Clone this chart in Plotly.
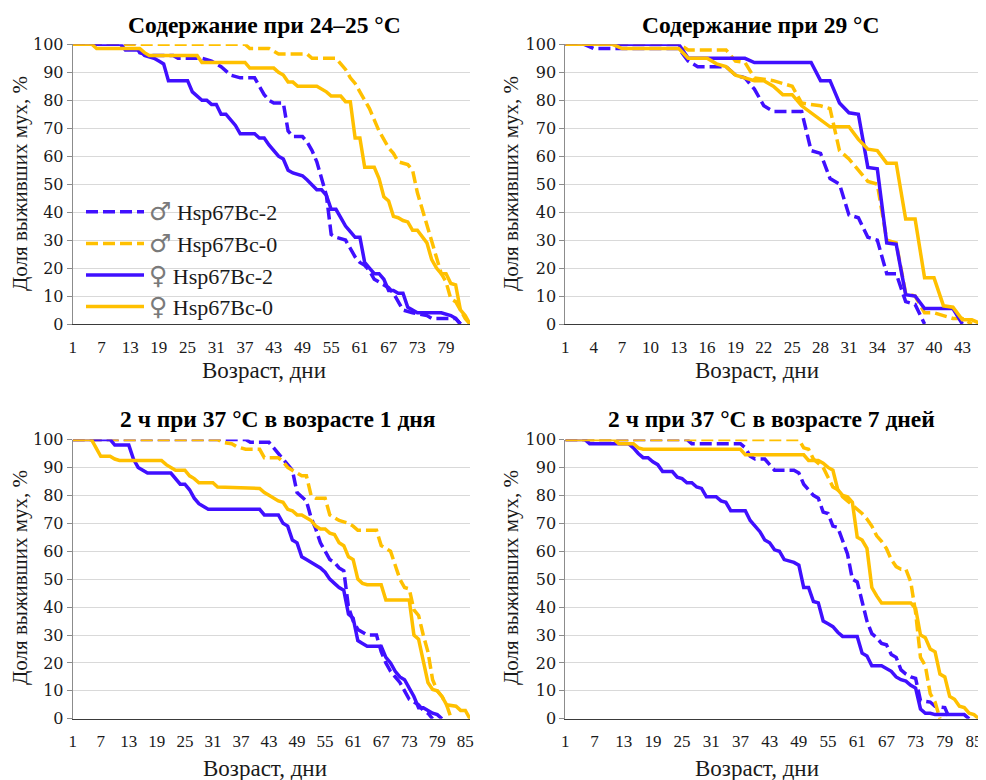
import plotly.graph_objects as go

# ---------------- data (day, % surviving) ----------------
# Panel 1: 24-25 °C
p1_m2_d = [1,14,15,17,22,23,28,30,32,34,36,39,41,42,43,45,46,47,49,50,51,52,53,54,55,56,58,59,60,61,62,63,64,65,67,68,69,70,72,75,76,81,82]
p1_m2_v = [100,100,97,96,96,95,95,94,92,89,88,88,82,80,79,79,69,67,67,65,62,58,52,46,32,31,30,27,24,22,21,19,16,15,13,11,8,5,4,3,2,2,0]
p1_m0_d = [1,37,38,42,44,50,51,56,57,58,59,60,61,62,63,64,65,66,67,68,69,71,72,73,74,75,76,77,78,79,80,81,82,83,84]
p1_m0_v = [100,100,98.5,98.5,96.5,96.5,95,95,93,91,88,86,83,80,77,73,69,66,63,61,58,57,55,47,41,36,30,24,18,15,9,8,5,2,0]
p1_f2_d = [1,11,12,15,16,18,19,20,21,25,26,27,28,29,30,31,32,33,34,35,36,39,40,41,42,43,44,45,46,47,48,49,50,52,53,54,55,56,57,58,59,60,61,62,63,64,65,66,67,68,69,70,71,72,73,78,80,81,82]
p1_f2_v = [100,100,98,98,96,95,94,93,87,87,83,81.5,80,80,78.5,78.5,75,75,73,71,68,68,66.5,66.5,64,62,60,59,55,54,53.5,53,51.5,48,48,46,41,41,38,35,33,31,31,22,20,18,18,16,12,12,11,11,6,5,4,4,3,2,0]
p1_f0_d = [1,5,6,15,16,17,27,28,37,38,43,44,45,46,47,48,52,53,54,55,57,58,59,60,61,62,64,65,66,67,68,69,70,71,72,73,74,75,76,77,78,79,80,81,82,83,84]
p1_f0_v = [100,100,98.5,98.5,97,96,96,93.5,93.5,91.5,91.5,90,89,86.5,86.5,85,85,84,83,81.5,81.5,79.5,79.5,66.5,66.5,56,56,52,45.5,44,38.5,38,37,36.5,33.5,33.5,31,29,23,20,18,18,14.5,14,5,3,0]

# Panel 2: 29 °C
p2_m2_d = [1,3,4,13,14,15,18,19,20,21,22,23,26,27,28,29,30,31,32,33,34,35,36,37,38,39]
p2_m2_v = [100,100,98.5,98.5,94,92,92,89,88,84,78,76,76,62,61,52,50,39,38,31,30,18,18,8,7,0]
p2_m0_d = [1,13,14,18,19,20,21,23,24,25,26,28,29,30,31,32,33,34,35,36,37,38,39,40,41,42,43,44]
p2_m0_v = [100,100,98,98,94,93.5,88,87,86,85,79,78,77,62,59,55,51,50,30,29,11,10,4,4,3,2,2,0]
p2_f2_d = [1,13,14,20,21,27,28,29,30,31,32,33,34,35,36,37,38,39,42,43]
p2_f2_v = [100,100,95,95,93.5,93.5,87,87,79,75.5,75,56,55.5,29,28.5,10.5,10,5.5,5.5,0]
p2_f0_d = [1,6,7,13,14,16,17,18,19,20,21,22,23,24,25,26,27,28,29,31,32,33,34,35,36,37,38,39,40,41,42,43,44,45]
p2_f0_v = [100,100,98.5,98.5,95,95,93,92,89,88,87,87,85,82,82,78,75.5,73,70.5,70.5,66,62.5,62,57.5,57.5,37.5,37.5,16.5,16.5,6.5,6,1.5,1.5,0]

# Panel 3: 2 h at 37 °C, age 1 day
p3_m2_d = [1,38,39,43,44,45,46,47,48,49,50,51,52,53,54,55,56,57,58,59,60,61,62,63,64,66,67,68,69,70,71,72,73,74,75,76,77,78]
p3_m2_v = [100,100,99,99,97,95,93,91,89,81,79.5,78,72,68,63,60,57,56,54,53,40,35,32,31,30,30,24,20,17,15,13,10,7,6,5,3,2,0]
p3_m0_d = [1,32,33,35,36,37,38,41,42,45,46,47,48,49,50,51,52,53,55,56,57,58,59,60,61,62,66,67,68,69,70,71,72,73,74,75,76,77,78,79,80,81,82]
p3_m0_v = [100,100,99,98.5,97.5,97,96.5,96.5,93.5,93.5,92,90,89,88,87,87,80,79,79,73,72,71,70.5,70,69,67.5,67.5,62,61,60,55,50,47,46.5,39,37,30,24,14,10,8,5,0]
p3_f2_d = [1,9,10,13,14,15,16,17,22,23,24,25,26,27,28,29,30,41,42,45,46,47,48,49,50,51,52,53,54,55,56,57,58,59,60,61,62,63,64,67,68,69,70,71,72,73,74,75,76,77,78,79,80]
p3_f2_v = [100,100,98,98,93,90,89,88,88,86,84,84,82,79,77,76,75,75,73,73,70,69,64,63,58,57,56,55,54,52.5,50,48.5,47,46,37.5,36,28,27,26,26,22,20,17,15,14,11,8,4,4,3,2,1.5,0]
p3_f0_d = [1,5,6,7,9,10,11,20,21,22,23,25,26,27,28,31,32,41,42,43,44,45,46,47,48,49,50,51,52,53,54,55,56,57,58,59,60,61,62,63,64,67,68,73,74,75,76,77,78,79,80,81,83,84,85,86]
p3_f0_v = [100,100,97,94,94,93,92.5,92.5,91,90,89,89,87,86,84.5,84.5,83,82.5,81,80,79,78,77.5,75,74.5,73,73,72,71,69,68,68,66.5,66,63,62,58,57,50,48.5,48,48,42.5,42.5,30,28.5,20,13,10.5,10,8,5,4.5,3,3,0]

# Panel 4: 2 h at 37 °C, age 7 days
p4_m2_d = [1,26,27,37,38,39,40,42,43,44,48,49,50,51,52,53,54,55,56,57,58,59,60,61,62,63,64,65,66,67,68,69,70,71,72,73,74,76,77,79,80]
p4_m2_v = [100,100,98.5,98.5,97,94,93,93,91,89,89,88,84,82,80,79,74,73.5,69,68.5,64,59,50,49,42,35,30.5,29,27,26.5,23,22,17.5,16,15,14.5,6.5,6,4.5,4,0]
p4_m0_d = [1,49,50,51,52,53,54,55,56,57,58,59,60,61,62,63,64,65,66,67,68,69,70,71,72,73,74,75,76,77,78]
p4_m0_v = [100,100,97,96.5,93,91.5,90,86.5,83,82,79.5,78,76.5,75,73.5,71.5,69,65.5,63.5,61,57,54.5,53.5,53.5,49,38,22,19,9,6,0]
p4_f2_d = [1,5,6,14,15,16,17,18,19,20,21,23,24,25,26,27,28,29,30,32,33,34,35,38,39,40,41,42,43,44,45,46,47,48,49,50,51,52,53,54,55,56,57,58,61,62,63,64,66,67,68,69,70,71,72,73,74,75,76,77,83,84]
p4_f2_v = [100,100,98.5,98.5,97,95,93.5,93.5,92,91,88.5,88.5,86.5,86,84.5,84.5,83,82.5,79.5,79.5,78,77.5,74.5,74.5,71,69,67,64,63,60.5,60,57,56.5,56,55,47,47,42,41.5,35,34,33,31,29.5,29.5,23.5,22.5,19,19,18,17,15,14,13.5,12,11,3.5,2,2,1.5,1.5,0]
p4_f0_d = [1,11,12,15,16,17,37,38,50,51,53,54,55,56,57,58,59,60,61,62,63,64,65,66,72,73,74,75,76,77,78,79,80,81,82,83,84,85,86]
p4_f0_v = [100,100,98.5,98.5,97,96.5,96.5,94.5,94.5,92.5,92.5,91.5,90,89,82,80,79.5,77.5,65,64,61,47,44,41.5,41.5,39.5,30,29,25,24,16,15,8,7,4.5,4,2,1.5,0]

SYM = "<span style='color:#7a7a7a;font-size:25px;font-family:DejaVu Sans'>%s</span> Hsp67Bc-%s"
series_names = [SYM % ("♂", "2"), SYM % ("♂", "0"), SYM % ("♀", "2"), SYM % ("♀", "0")]
panel_titles = ["Содержание при 24–25 °C", "Содержание при 29 °C",
                "2 ч при 37 °C в возрасте 1 дня", "2 ч при 37 °C в возрасте 7 дней"]
x_title = "Возраст, дни"
y_title = "Доля выживших мух, %"
x_ticks_p1 = list(range(1, 80, 6))
x_ticks_p2 = list(range(1, 44, 3))
x_ticks_p34 = list(range(1, 86, 6))
y_ticks = list(range(0, 101, 10))
x_ranges = [[1, 84], [1, 45], [1, 86], [1, 86.5]]

panels = [
    [(p1_m2_d, p1_m2_v), (p1_m0_d, p1_m0_v), (p1_f2_d, p1_f2_v), (p1_f0_d, p1_f0_v)],
    [(p2_m2_d, p2_m2_v), (p2_m0_d, p2_m0_v), (p2_f2_d, p2_f2_v), (p2_f0_d, p2_f0_v)],
    [(p3_m2_d, p3_m2_v), (p3_m0_d, p3_m0_v), (p3_f2_d, p3_f2_v), (p3_f0_d, p3_f0_v)],
    [(p4_m2_d, p4_m2_v), (p4_m0_d, p4_m0_v), (p4_f2_d, p4_f2_v), (p4_f0_d, p4_f0_v)],
]
x_tick_sets = [x_ticks_p1, x_ticks_p2, x_ticks_p34, x_ticks_p34]

# ---------------- styling ----------------
# The page body has an 8px margin, so the figure is 8px smaller and all
# screen positions below are converted to figure positions by subtracting OFF.
OFF = 8
W, H = 986 - OFF, 780 - OFF
BLUE = "#4010FF"
GOLD = "#FFC000"
colors = [BLUE, GOLD, BLUE, GOLD]
dashes = ["12px,5px", "12px,5px", "solid", "solid"]
FONT = "Liberation Serif, Times New Roman, serif"
YFONT = "DejaVu Serif, Liberation Serif, serif"
TXT = "#1a1a1a"


def px(sx):
    return (sx - OFF) / W


def py(sy):
    return 1 - (sy - OFF) / H


# plot areas in screen pixels: (left, right, top, bottom)
areas = [(72.7, 470.0, 44.3, 324.0), (565.3, 981.3, 44.3, 324.0),
         (72.7, 470.0, 439.5, 718.8), (565.3, 981.3, 439.5, 718.8)]

fig = go.Figure()
layout = dict(
    width=W, height=H, margin=dict(l=0, r=0, t=0, b=0, autoexpand=False),
    paper_bgcolor="white", plot_bgcolor="white",
    font=dict(family=FONT, color=TXT),
    showlegend=True,
    legend=dict(x=px(81), y=py(191), xanchor="left", yanchor="top",
                bgcolor="rgba(0,0,0,0)", font=dict(family=FONT, size=22, color=TXT),
                tracegroupgap=0, itemwidth=58),
)

for i, (area, series) in enumerate(zip(areas, panels)):
    n = "" if i == 0 else str(i + 1)
    l, r, t, b = area
    layout["xaxis" + n] = dict(
        domain=[px(l), px(r)], anchor="y" + n, range=x_ranges[i], automargin=False,
        tickmode="array", tickvals=x_tick_sets[i], ticks="",
        showgrid=False, zeroline=False, showline=True, linecolor="#3a3a3a", linewidth=1.3,
        tickfont=dict(family=FONT, size=17, color=TXT), ticklabelstandoff=7,
        ticklabeloverflow="allow",
    )
    layout["yaxis" + n] = dict(
        domain=[py(b), py(t)], anchor="x" + n, range=[0, 100], automargin=False,
        tickmode="array", tickvals=y_ticks, ticks="outside", ticklen=5,
        tickcolor="#8c8c8c", tickwidth=1,
        showgrid=True, gridcolor="#d9d9d9", gridwidth=1, zeroline=False,
        showline=True, linecolor="#8c8c8c", linewidth=1,
        tickfont=dict(family=YFONT, size=16, color=TXT), ticklabelstandoff=0,
    )
    for k, (d, v) in enumerate(series):
        fig.add_trace(go.Scatter(
            x=d, y=v, mode="lines", name=series_names[k],
            legendgroup="g%d" % k, showlegend=(i == 0),
            line=dict(color=colors[k], width=3.5, dash=dashes[k]),
            xaxis="x" + n, yaxis="y" + n, hoverinfo="skip",
        ))

# titles (screen pixel centres)
title_pos = [(264, 25), (760, 25), (278, 419), (771, 419)]
xt_pos = [(264, 370), (757, 370), (265, 768), (757, 768)]
yt_pos = [(20, 184), (511, 184), (20, 578), (511, 578)]
ann = []
for i in range(4):
    ann.append(dict(text="<b>" + panel_titles[i] + "</b>", x=px(title_pos[i][0]), y=py(title_pos[i][1]),
                    xref="paper", yref="paper", xanchor="center", yanchor="middle", showarrow=False,
                    font=dict(family=FONT, size=23.5, color="#000000")))
    ann.append(dict(text=x_title, x=px(xt_pos[i][0]), y=py(xt_pos[i][1]),
                    xref="paper", yref="paper", xanchor="center", yanchor="middle", showarrow=False,
                    font=dict(family=FONT, size=23, color=TXT)))
    ann.append(dict(text=y_title, x=px(yt_pos[i][0]), y=py(yt_pos[i][1]), textangle=-90,
                    xref="paper", yref="paper", xanchor="center", yanchor="middle", showarrow=False,
                    font=dict(family=FONT, size=21, color=TXT)))
layout["annotations"] = ann

fig.update_layout(**layout)
fig.write_html("out.html")
